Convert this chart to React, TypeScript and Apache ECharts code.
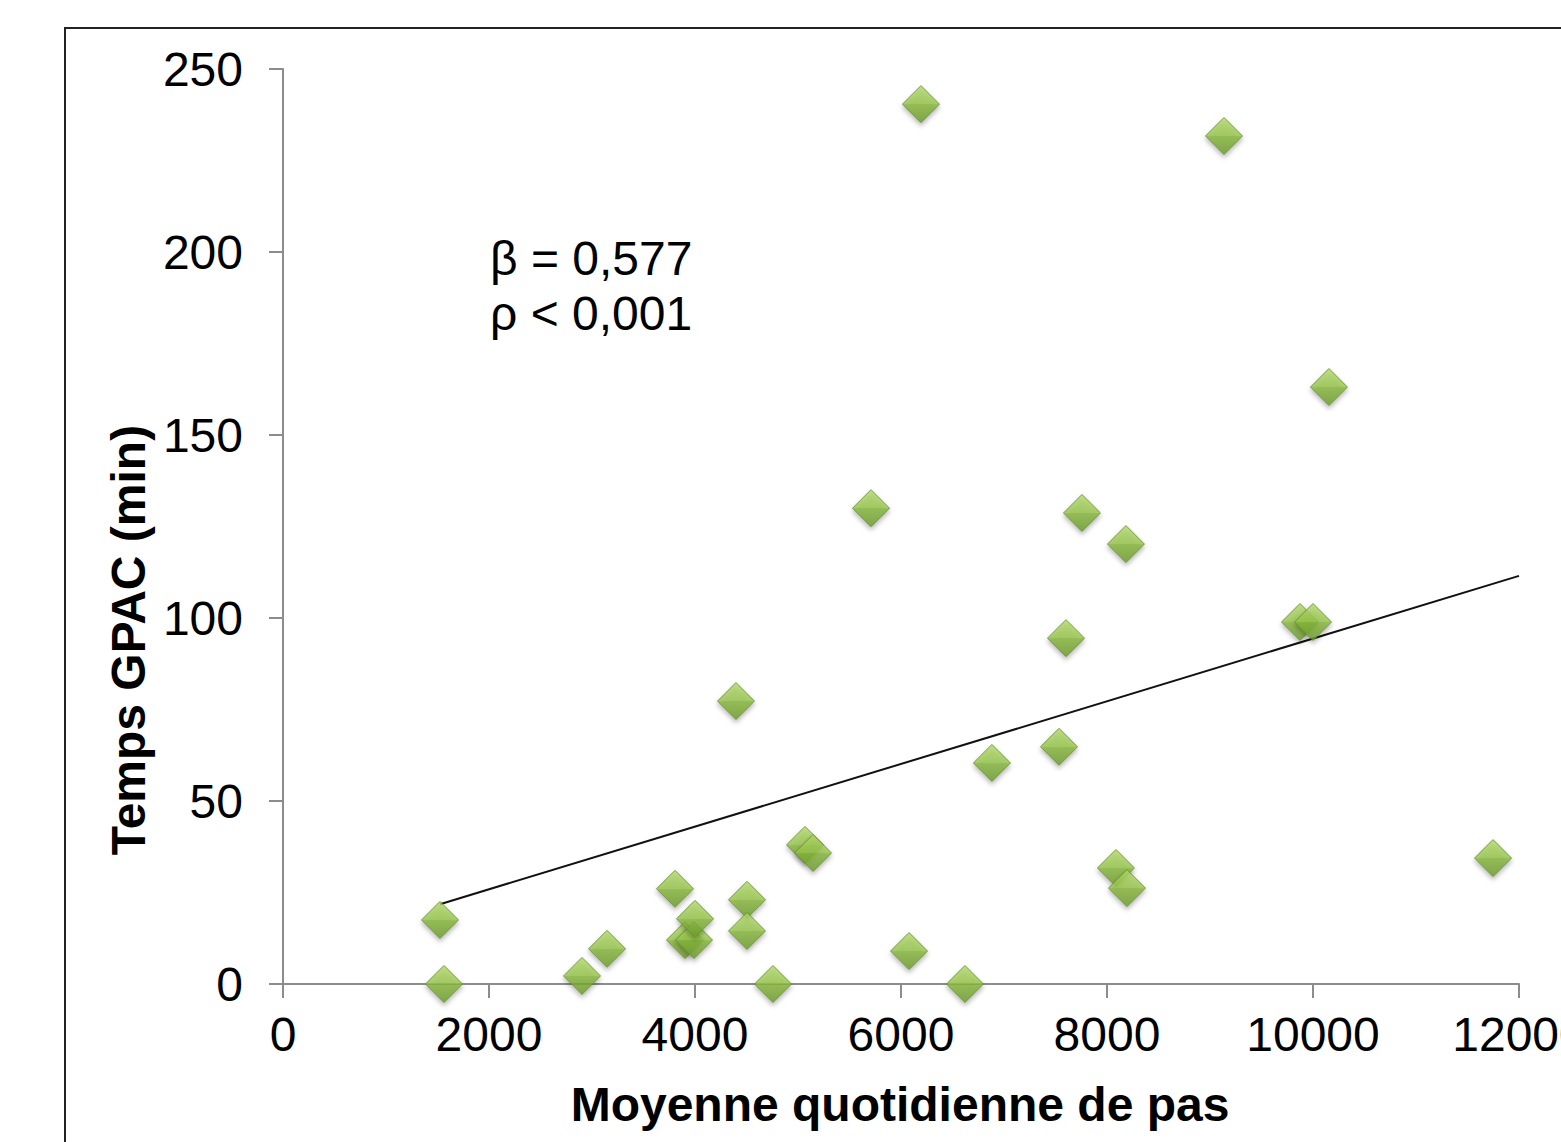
import React, { useEffect, useRef } from "react";
import * as echarts from "echarts";

const stepsX = [1524, 1563, 2903, 3146, 3806, 3903, 3990, 4000, 4505, 4505, 4757, 5068, 5146, 4398, 5709, 6194, 6078, 6621, 6883, 7534, 7602, 7757, 8184, 8087, 8194, 9136, 9874, 10000, 10155, 11748];
const gpacY = [17.5, 0, 2.2, 9.6, 26, 12, 12, 17.8, 23, 14.5, 0, 38, 35.8, 77.3, 130, 240.4, 9, 0, 60.4, 64.8, 94.5, 128.7, 120.2, 31.7, 26.2, 231.7, 98.9, 98.9, 163.1, 34.4];
const trendX = [1524, 12000];
const trendY = [21.8, 111.5];
const xTicks = [0, 2000, 4000, 6000, 8000, 10000, 12000];
const yTicks = [0, 50, 100, 150, 200, 250];
const annotation = ["β = 0,577", "ρ < 0,001"];
const xName = "Moyenne quotidienne de pas";
const yName = "Temps GPAC (min)";

const FONT = "'Liberation Sans', Arial, Helvetica, sans-serif";

export default function App() {
  const ref = useRef<HTMLDivElement>(null);
  useEffect(() => {
    if (!ref.current) return;
    const chart = echarts.init(ref.current, undefined, { renderer: "svg" });
    const axisLine = { show: true, lineStyle: { color: "#8c8c8c", width: 2 } };
    chart.setOption({
      animation: false,
      backgroundColor: "#ffffff",
      grid: { left: 283, right: 42, top: 69, bottom: 158, containLabel: false, outerBoundsMode: "none" },
      xAxis: {
        type: "value",
        min: xTicks[0],
        max: xTicks[xTicks.length - 1],
        interval: 2000,
        axisLine,
        axisTick: { show: true, length: 14, lineStyle: { color: "#8c8c8c", width: 2 } },
        splitLine: { show: false },
        axisLabel: {
          color: "#000",
          fontSize: 48,
          fontFamily: FONT,
          margin: 26,
          formatter: (v: number) => String(v),
        },
      },
      yAxis: {
        type: "value",
        min: yTicks[0],
        max: yTicks[yTicks.length - 1],
        interval: 50,
        axisLine,
        axisTick: { show: true, length: 14, lineStyle: { color: "#8c8c8c", width: 2 } },
        splitLine: { show: false },
        axisLabel: {
          color: "#000",
          fontSize: 48,
          fontFamily: FONT,
          margin: 40,
          formatter: (v: number) => String(v),
        },
      },
      graphic: [
        {
          type: "rect",
          shape: { x: 65, y: 28, width: 1600, height: 1300 },
          style: { fill: "none", stroke: "#222", lineWidth: 2 },
          silent: true,
          z: -1,
        },
        {
          type: "text",
          x: 900,
          y: 1104,
          style: { text: xName, font: `bold 48px ${FONT}`, fill: "#000", align: "center", verticalAlign: "middle" },
        },
        {
          type: "text",
          x: 128,
          y: 640,
          rotation: Math.PI / 2,
          style: { text: yName, font: `bold 48px ${FONT}`, fill: "#000", align: "center", verticalAlign: "middle" },
        },
        {
          type: "text",
          x: 490,
          y: 258,
          style: { text: annotation[0], font: `48px ${FONT}`, fill: "#000", align: "left", verticalAlign: "middle" },
        },
        {
          type: "text",
          x: 490,
          y: 313,
          style: { text: annotation[1], font: `48px ${FONT}`, fill: "#000", align: "left", verticalAlign: "middle" },
        },
      ],
      series: [
        {
          type: "line",
          data: trendX.map((x, i) => [x, trendY[i]]),
          symbol: "none",
          lineStyle: { color: "#111", width: 2 },
          z: 1,
        },
        {
          type: "scatter",
          data: stepsX.map((x, i) => [x, gpacY[i]]),
          symbol: "diamond",
          symbolSize: 37,
          z: 2,
          itemStyle: {
            color: {
              type: "linear",
              x: 0, y: 0, x2: 0, y2: 1,
              colorStops: [
                { offset: 0, color: "#b0d768" },
                { offset: 0.5, color: "#95c34a" },
                { offset: 0.5, color: "#86b63c" },
                { offset: 1, color: "#6b9a2b" },
              ],
            },
            borderColor: "#5f8c25",
            borderWidth: 1,
            shadowColor: "rgba(0,0,0,0.35)",
            shadowBlur: 5,
            shadowOffsetY: 3,
          },
        },
      ],
    });
    return () => chart.dispose();
  }, []);
  return (
    <div
      ref={ref}
      style={{ position: "absolute", left: 0, top: 0, width: 1561, height: 1142 }}
    />
  );
}
